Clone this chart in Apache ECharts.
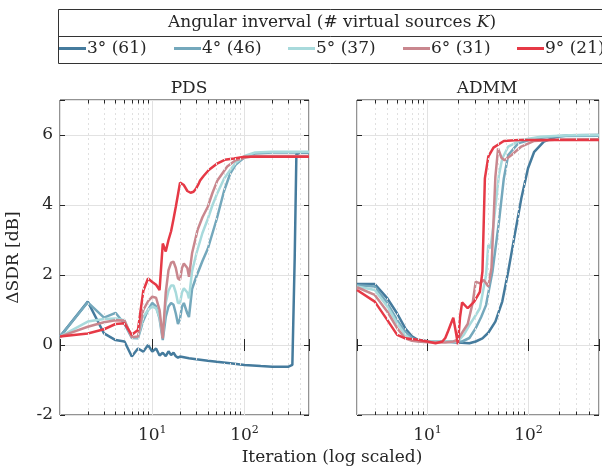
<!DOCTYPE html>
<html>
<head>
<meta charset="UTF-8">
<title>PDS vs ADMM</title>
<style>
  html, body { margin: 0; padding: 0; background: #fff; }
  #main { width: 602px; height: 470px; }
</style>
<script src="https://cdn.jsdelivr.net/npm/echarts@6/dist/echarts.min.js"></script>
</head>
<body>
<div id="main"></div>
<script>
// legend names and colours
var names = ['3° (61)', '4° (46)', '5° (37)', '6° (31)', '9° (21)'];
var colors = ['#457b9d', '#74a8bc', '#a8dadc', '#c9878e', '#e63946'];

// PDS curves, [iteration, dSDR]
var pds3 = [[1,0.24],[2,1.24],[3,0.33],[4,0.14],[5,0.1],[6,-0.33],[7,-0.1],[8,-0.19],[9,0],[10,-0.19],[11,-0.1],[12,-0.3],[13,-0.22],[14,-0.32],[15,-0.18],[16,-0.29],[17,-0.22],[18,-0.32],[19,-0.36],[20,-0.33],[25,-0.38],[30,-0.41],[40,-0.45],[50,-0.48],[70,-0.52],[100,-0.57],[150,-0.6],[200,-0.62],[300,-0.62],[330,-0.57],[350,2.5],[365,5.45],[400,5.5],[500,5.5]];
var pds4 = [[1,0.24],[2,1.22],[3,0.78],[4,0.92],[5,0.6],[6,0.2],[7,0.19],[8,0.7],[9,1.0],[10,1.2],[11,1.1],[12,0.75],[13,0.14],[14,0.8],[15,1.1],[16,1.2],[17,1.15],[18,0.9],[19,0.6],[20,0.75],[21,1.1],[22,1.2],[23,1.15],[24,0.9],[25,0.8],[27,1.6],[30,1.95],[35,2.4],[40,2.75],[45,3.2],[50,3.6],[60,4.4],[70,4.9],[80,5.15],[100,5.36],[130,5.47],[200,5.5],[500,5.5]];
var pds5 = [[1,0.24],[2,0.67],[3,0.74],[4,0.76],[5,0.71],[6,0.22],[7,0.22],[8,0.8],[9,1.0],[10,1.1],[11,1.05],[12,0.8],[13,0.24],[14,1.2],[15,1.55],[16,1.7],[17,1.7],[18,1.5],[19,1.2],[20,1.2],[21,1.5],[22,1.62],[23,1.6],[24,1.5],[25,1.33],[27,2.1],[30,2.6],[35,3.2],[40,3.6],[45,4.0],[50,4.3],[60,4.75],[70,5.0],[80,5.2],[100,5.4],[130,5.5],[200,5.52],[500,5.52]];
var pds6 = [[1,0.24],[2,0.52],[3,0.65],[4,0.71],[5,0.7],[6,0.22],[7,0.24],[8,1.0],[9,1.25],[10,1.38],[11,1.35],[12,1.0],[13,0.19],[14,1.5],[15,2.14],[16,2.35],[17,2.38],[18,2.2],[19,1.9],[20,1.86],[21,2.2],[22,2.33],[23,2.35],[24,2.2],[25,1.95],[27,2.62],[31,3.29],[35,3.65],[40,3.95],[45,4.35],[51,4.71],[65,5.1],[80,5.28],[100,5.35],[130,5.4],[500,5.4]];
var pds9 = [[1,0.24],[2,0.33],[3,0.45],[4,0.6],[5,0.62],[6,0.29],[7,0.43],[8,1.55],[9,1.9],[10,1.8],[11,1.72],[12,1.57],[13,2.9],[14,2.67],[15,3.0],[16,3.25],[17,3.6],[18,3.95],[19,4.3],[20,4.64],[21,4.62],[22,4.57],[24,4.4],[26,4.35],[28,4.38],[30,4.48],[32,4.62],[33,4.7],[36,4.83],[41,5.0],[51,5.19],[61,5.29],[77,5.33],[100,5.38],[500,5.38]];

// ADMM curves
var admm3 = [[2,1.74],[3,1.74],[4,1.33],[5,0.9],[6,0.48],[7,0.25],[8,0.15],[10,0.11],[15,0.09],[20,0.07],[26,0.05],[30,0.1],[35,0.19],[40,0.35],[47,0.67],[55,1.24],[63,2.1],[73,3.14],[85,4.19],[99,5.05],[114,5.52],[142,5.81],[190,5.95],[260,5.99],[500,6.0]];
var admm4 = [[2,1.71],[3,1.67],[4,1.19],[5,0.71],[6,0.38],[7,0.2],[8,0.12],[10,0.1],[15,0.1],[22,0.1],[26,0.2],[30,0.48],[34,0.8],[38,1.14],[44,2.1],[51,3.52],[57,4.76],[63,5.43],[79,5.76],[114,5.9],[200,5.97],[500,5.98]];
var admm5 = [[2,1.67],[3,1.57],[4,1.1],[5,0.62],[6,0.29],[7,0.15],[8,0.11],[10,0.1],[15,0.1],[20,0.1],[23,0.3],[26,0.57],[30,0.85],[33,1.05],[38,2.0],[40,2.86],[42,2.76],[45,3.43],[51,4.86],[55,5.33],[63,5.67],[85,5.86],[132,5.95],[250,5.99],[500,6.0]];
var admm6 = [[2,1.65],[3,1.43],[4,0.95],[5,0.48],[6,0.19],[7,0.12],[8,0.1],[10,0.08],[15,0.07],[18,0.1],[20,0.15],[22,0.35],[25,0.6],[28,1.2],[30,1.81],[33,1.76],[36,1.86],[40,1.67],[43,2.2],[45,3.5],[47,4.8],[50,5.62],[54,5.35],[58,5.28],[68,5.43],[85,5.67],[114,5.83],[200,5.87],[500,5.88]];
var admm9 = [[2,1.57],[3,1.24],[4,0.71],[5,0.29],[6,0.19],[8,0.15],[10,0.1],[12,0.05],[14,0.1],[15,0.2],[16,0.4],[17,0.6],[18,0.78],[19,0.4],[20,0.02],[21,0.8],[22,1.22],[25,1.05],[29,1.24],[33,1.52],[35,2.1],[37,4.76],[40,5.38],[45,5.64],[57,5.83],[80,5.86],[500,5.86]];

var yTicks = [-2, 0, 2, 4, 6];
var minorLeft = [2,3,4,5,6,7,8,9,20,30,40,50,60,70,80,90,200,300,400];
var minorRight = [3,4,5,6,7,8,9,20,30,40,50,60,70,80,90,200,300,400];

var FONT = '"DejaVu Serif", "Liberation Serif", serif';
var INK = '#262626';

var chart = echarts.init(document.getElementById('main'));

function xLabel(v) {
    var e = Math.log10(v);
    var r = Math.round(e);
    if (Math.abs(e - r) < 1e-6 && r >= 1) return '{b|10}{s|' + r + '}';
    return '';
}

function xAxes(grid, min) {
    return [
        {
            type: 'log', logBase: 10, gridIndex: grid, min: min, max: 500, position: 'bottom',
            axisLine: { show: false },
            axisTick: { inside: true, length: 6, lineStyle: { color: INK } },
            splitLine: { show: true, lineStyle: { color: '#e2e2e2', width: 1 } },
            axisLabel: {
                margin: 10, formatter: xLabel,
                rich: {
                    b: { fontFamily: FONT, fontSize: 17, color: INK },
                    s: { fontFamily: FONT, fontSize: 11, color: INK, padding: [0, 0, 10, 0] }
                }
            }
        },
        {
            type: 'log', logBase: 10, gridIndex: grid, min: min, max: 500, position: 'top',
            axisLine: { show: false },
            axisTick: { inside: true, length: 6, lineStyle: { color: INK } },
            splitLine: { show: false },
            axisLabel: { show: false }
        }
    ];
}

function yAxes(grid, labels) {
    return [
        {
            type: 'value', gridIndex: grid, min: -2, max: 7, interval: 2, position: 'left',
            name: labels ? 'ΔSDR [dB]' : '', nameLocation: 'middle', nameGap: 38,
            nameTextStyle: { fontFamily: FONT, fontSize: 17, color: INK },
            axisLine: { show: false },
            axisTick: { inside: true, length: 5, lineStyle: { color: INK } },
            splitLine: { show: true, lineStyle: { color: '#e2e2e2', width: 1 } },
            axisLabel: {
                show: labels, margin: 7, fontFamily: FONT, fontSize: 17, color: INK,
                formatter: function (v) { return yTicks.indexOf(v) >= 0 ? String(v) : ''; }
            }
        },
        {
            type: 'value', gridIndex: grid, min: -2, max: 7, interval: 2, position: 'right',
            axisLine: { show: false },
            axisTick: { inside: true, length: 5, lineStyle: { color: INK } },
            splitLine: { show: false },
            axisLabel: { show: false }
        }
    ];
}

// dotted minor grid plus short minor ticks, drawn through the log axis
function minorSeries(xi, yi, vals) {
    var data = [];
    vals.forEach(function (v) {
        data.push([{ coord: [v, -2], lineStyle: { type: [2, 3], color: '#e0e0e0' } }, { coord: [v, 7] }]);
        data.push([{ coord: [v, -2], lineStyle: { type: 'solid', color: INK } }, { coord: [v, -1.9] }]);
        data.push([{ coord: [v, 7], lineStyle: { type: 'solid', color: INK } }, { coord: [v, 6.9] }]);
    });
    return {
        type: 'line', xAxisIndex: xi, yAxisIndex: yi, data: [], z: 1, silent: true,
        markLine: {
            silent: true, symbol: ['none', 'none'], label: { show: false },
            lineStyle: { width: 1 }, animation: false, data: data
        }
    };
}

var pds = [pds3, pds4, pds5, pds6, pds9];
var admm = [admm3, admm4, admm5, admm6, admm9];

var series = [minorSeries(0, 0, minorLeft), minorSeries(2, 2, minorRight)];
names.forEach(function (n, i) {
    var common = {
        name: n, type: 'line', showSymbol: false, symbol: 'none', z: 3,
        lineStyle: { width: 2.5, color: colors[i] }, itemStyle: { color: colors[i] }
    };
    series.push(Object.assign({}, common, { xAxisIndex: 0, yAxisIndex: 0, data: pds[i] }));
    series.push(Object.assign({}, common, { xAxisIndex: 2, yAxisIndex: 2, data: admm[i] }));
});

var legendLeft = [59, 174, 288, 403, 517];
var legends = names.map(function (n, i) {
    return {
        data: [n], left: legendLeft[i], top: 40, padding: 0,
        icon: 'rect', itemWidth: 27, itemHeight: 3, itemGap: 0,
        textStyle: { fontFamily: FONT, fontSize: 17, color: INK, padding: [0, 0, 0, -4] }
    };
});

var option = {
    animation: false,
    title: [
        { text: 'PDS', left: 184, top: 75, textAlign: 'center',
          textStyle: { fontFamily: FONT, fontSize: 17, fontWeight: 'normal', color: INK } },
        { text: 'ADMM', left: 482, top: 75, textAlign: 'center',
          textStyle: { fontFamily: FONT, fontSize: 17, fontWeight: 'normal', color: INK } }
    ],
    legend: legends,
    grid: [
        { left: 60, top: 100, width: 249, height: 315, show: true, borderColor: INK, borderWidth: 1, backgroundColor: 'transparent' },
        { left: 357, top: 100, width: 250, height: 315, show: true, borderColor: INK, borderWidth: 1, backgroundColor: 'transparent' }
    ],
    xAxis: xAxes(0, 1).concat(xAxes(1, 2)),
    yAxis: yAxes(0, true).concat(yAxes(1, false)),
    series: series,
    graphic: [
        { type: 'rect', shape: { x: 58.5, y: 9.5, width: 600, height: 54 },
          style: { fill: 'none', stroke: '#333', lineWidth: 1 } },
        { type: 'line', shape: { x1: 58.5, y1: 36.5, x2: 660, y2: 36.5 },
          style: { stroke: '#333', lineWidth: 1 } },
        { type: 'text', x: 332, y: 23,
          style: {
              text: '{a|Angular inverval (# virtual sources }{k|K}{a|)}',
              align: 'center', verticalAlign: 'middle',
              rich: {
                  a: { fontFamily: FONT, fontSize: 17, fill: INK },
                  k: { fontFamily: FONT, fontSize: 17, fontStyle: 'italic', fill: INK }
              }
          } },
        { type: 'text', x: 332, y: 458,
          style: { text: 'Iteration (log scaled)', align: 'center', verticalAlign: 'middle',
                   fontFamily: FONT, fontSize: 17, fill: INK } }
    ]
};

chart.setOption(option);
</script>
</body>
</html>
